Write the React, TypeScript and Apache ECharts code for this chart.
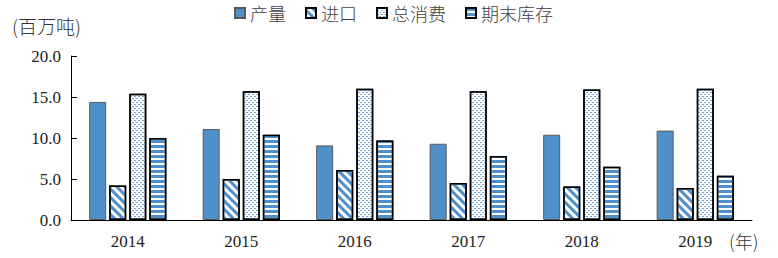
import React, { useEffect, useRef } from "react";
import * as echarts from "echarts";

const years = ["2014", "2015", "2016", "2017", "2018", "2019"];
const production = [14.4, 11.1, 9.1, 9.3, 10.4, 10.9];
const imports = [4.2, 5.0, 6.1, 4.5, 4.1, 3.9];
const consumption = [15.4, 15.7, 16.0, 15.7, 15.9, 16.0];
const endStock = [10.0, 10.4, 9.7, 7.8, 6.5, 5.4];
const yTicks = [0, 5, 10, 15, 20];

const BLUE = "#4f8fca";
const serif = "'Liberation Serif', 'Noto Sans CJK SC', serif";
const cjk = "'Noto Sans CJK SC', 'Liberation Serif', sans-serif";

export default function App() {
  const ref = useRef<HTMLDivElement>(null);
  useEffect(() => {
    if (!ref.current) return;
    const chart = echarts.init(ref.current, null, { renderer: "svg" });
    const barCommon = {
      type: "bar" as const,
      barWidth: 17,
      barGap: "18%",
    };
    chart.setOption({
      animation: false,
      legend: {
        top: 4,
        left: 234,
        padding: 0,
        icon: "rect",
        itemWidth: 10,
        itemHeight: 10,
        itemGap: 19,
        textStyle: { fontFamily: cjk, fontSize: 18, color: "#404040", fontWeight: 300 },
        data: ["产量", "进口", "总消费", "期末库存"],
      },
      grid: { left: 71, right: 26, top: 56, bottom: 38 },
      xAxis: {
        type: "category",
        data: years,
        axisLine: { lineStyle: { color: "#000", width: 1 } },
        axisTick: { inside: true, length: 5, lineStyle: { color: "#000" } },
        axisLabel: { fontFamily: serif, fontSize: 17, color: "#222", margin: 13 },
      },
      yAxis: {
        type: "value",
        min: yTicks[0],
        max: yTicks[yTicks.length - 1],
        interval: 5,
        splitLine: { show: false },
        axisLine: { show: true, lineStyle: { color: "#000", width: 1 } },
        axisTick: { show: true, inside: true, length: 6, lineStyle: { color: "#000" } },
        axisLabel: {
          fontFamily: serif,
          fontSize: 17,
          color: "#222",
          margin: 10,
          formatter: (v: number) => v.toFixed(1),
        },
      },
      graphic: [
        {
          type: "text",
          left: 12,
          top: 16,
          style: { text: "(百万吨)", font: `300 19px ${cjk}`, fill: "#333" },
        },
        {
          type: "text",
          left: 729,
          top: 232,
          style: { text: "(年)", font: `300 18px ${cjk}`, fill: "#333" },
        },
      ],
      series: [
        {
          ...barCommon,
          name: "产量",
          data: production,
          itemStyle: { color: BLUE, borderColor: "#5a5a5a", borderWidth: 1 },
        },
        {
          ...barCommon,
          name: "进口",
          data: imports,
          itemStyle: {
            color: "#fff",
            borderColor: "#000",
            borderWidth: 1.5,
            decal: {
              symbol: "rect",
              symbolSize: 1,
              color: BLUE,
              dashArrayX: [1, 0],
              dashArrayY: [3, 3],
              rotation: Math.PI / 4,
            },
          },
        },
        {
          ...barCommon,
          name: "总消费",
          data: consumption,
          itemStyle: {
            color: "#fff",
            borderColor: "#000",
            borderWidth: 1.5,
            decal: {
              symbol: "rect",
              symbolSize: 1,
              color: "#6fa3d8",
              dashArrayX: [
                [2, 2],
                [0, 2, 2, 0],
              ],
              dashArrayY: [1, 1],
              rotation: 0,
            },
          },
        },
        {
          ...barCommon,
          name: "期末库存",
          data: endStock,
          itemStyle: {
            color: "#fff",
            borderColor: "#000",
            borderWidth: 1.5,
            decal: {
              symbol: "rect",
              symbolSize: 1,
              color: BLUE,
              dashArrayX: [1, 0],
              dashArrayY: [3, 2],
              rotation: 0,
            },
          },
        },
      ],
    });
    return () => chart.dispose();
  }, []);
  return (
    <div
      ref={ref}
      style={{ position: "absolute", left: 0, top: 0, width: 778, height: 258 }}
    />
  );
}
